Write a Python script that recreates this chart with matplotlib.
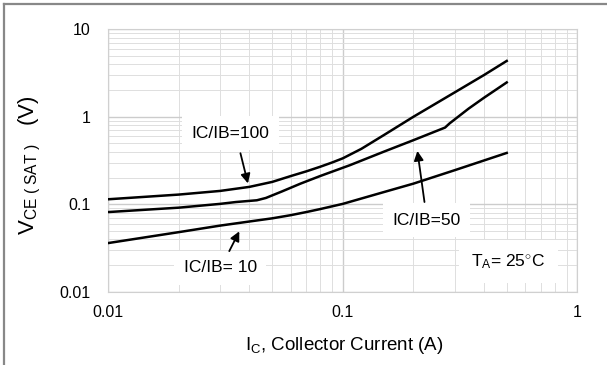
import numpy as np
import matplotlib
matplotlib.use('Agg')
import matplotlib.pyplot as plt
from matplotlib.ticker import LogLocator, NullFormatter, FixedLocator, FixedFormatter
from matplotlib.lines import Line2D

plt.rcParams['font.family'] = 'Liberation Sans'
plt.rcParams['mathtext.fontset'] = 'custom'
plt.rcParams['mathtext.rm'] = 'Liberation Sans'
plt.rcParams['mathtext.it'] = 'Liberation Sans'

# curves (Ic in A, Vce(sat) in V)
ic_100 = [0.01, 0.02, 0.03, 0.04, 0.05, 0.06, 0.07, 0.08, 0.09, 0.1, 0.12, 0.15, 0.2, 0.3, 0.4, 0.5]
vce_100 = [0.114, 0.129, 0.142, 0.158, 0.18, 0.21, 0.238, 0.268, 0.30, 0.335, 0.43, 0.62, 1.0, 1.9, 3.0, 4.35]

ic_50 = [0.01, 0.02, 0.03, 0.035, 0.043, 0.047, 0.055, 0.066, 0.08, 0.107, 0.15, 0.2, 0.273, 0.285, 0.344, 0.4, 0.5]
vce_50 = [0.0814, 0.0914, 0.101, 0.106, 0.111, 0.118, 0.140, 0.172, 0.21, 0.279, 0.40, 0.54, 0.753, 0.838, 1.24, 1.65, 2.47]

ic_10 = [0.01, 0.02, 0.03, 0.04, 0.05, 0.06, 0.07, 0.08, 0.1, 0.15, 0.2, 0.3, 0.5]
vce_10 = [0.036, 0.048, 0.057, 0.0635, 0.069, 0.075, 0.0815, 0.088, 0.101, 0.138, 0.172, 0.245, 0.386]

x_ticks = [0.01, 0.1, 1]
x_ticklabels = ['0.01', '0.1', '1']
y_ticks = [0.01, 0.1, 1, 10]
y_ticklabels = ['0.01', '0.1', '1', '10']

fig = plt.figure(figsize=(6.07, 3.65), dpi=100)
ax = fig.add_axes([0.1784, 0.2008, 0.7727, 0.7189])

ax.set_xscale('log')
ax.set_yscale('log')
ax.set_xlim(0.01, 1)
ax.set_ylim(0.01, 10)

ax.plot(ic_100, vce_100, color='black', lw=1.8, zorder=3)
ax.plot(ic_50, vce_50, color='black', lw=1.8, zorder=3)
ax.plot(ic_10, vce_10, color='black', lw=1.8, zorder=3)

# grid
ax.xaxis.set_major_locator(FixedLocator(x_ticks))
ax.xaxis.set_major_formatter(FixedFormatter(x_ticklabels))
ax.yaxis.set_major_locator(FixedLocator(y_ticks))
ax.yaxis.set_major_formatter(FixedFormatter(y_ticklabels))
ax.xaxis.set_minor_locator(LogLocator(base=10, subs=range(2, 10)))
ax.yaxis.set_minor_locator(LogLocator(base=10, subs=range(2, 10)))
ax.xaxis.set_minor_formatter(NullFormatter())
ax.yaxis.set_minor_formatter(NullFormatter())
ax.grid(which='major', color='#cccccc', lw=1.0)
ax.grid(which='minor', color='#dedede', lw=0.7)
ax.set_axisbelow(True)
ax.tick_params(which='both', length=0)
ax.tick_params(axis='x', labelsize=11.5, pad=9.5)
ax.tick_params(axis='y', labelsize=11.5, pad=12.5)
for s in ax.spines.values():
    s.set_color('#d0d0d0')

box = dict(boxstyle='square,pad=0.55', fc='white', ec='none')
arr = dict(arrowstyle='-|>', color='black', lw=1.3, mutation_scale=14, shrinkA=0, shrinkB=0)

ax.text(0.0332, 0.649, 'IC/IB=100', fontsize=12.5, ha='center', va='center', bbox=box, zorder=4)
ax.annotate('', xy=(0.0394, 0.173), xytext=(0.0366, 0.383), arrowprops=arr, zorder=5)

ax.text(0.228, 0.0654, 'IC/IB=50', fontsize=12.5, ha='center', va='center', bbox=box, zorder=4)
ax.annotate('', xy=(0.208, 0.407), xytext=(0.223, 0.106), arrowprops=arr, zorder=5)

ax.text(0.030, 0.0188, 'IC/IB= 10', fontsize=12.5, ha='center', va='center', bbox=box, zorder=4)
ax.annotate('', xy=(0.0362, 0.049), xytext=(0.0328, 0.0291), arrowprops=arr, zorder=5)

ax.text(0.508, 0.0222, r'T$_{\mathregular{A}}$= 25$^{\circ}$C', fontsize=12.5,
        ha='center', va='center', bbox=dict(boxstyle='square,pad=0.7', fc='white', ec='none'), zorder=4)

fig.text(30 / 607, 1 - 165 / 365, r'V$_{\mathregular{CE\ (\ SAT\ )}}$   (V)', fontsize=16,
         rotation=90, ha='center', va='center')
fig.text(344 / 607, 1 - 346 / 365, r'I$_{\mathregular{C}}$, Collector Current (A)', fontsize=13.5,
         ha='center', va='center')

# frame lines on top and left of the figure
fig.add_artist(Line2D([3.5 / 607, 3.5 / 607], [0, 1 - 3.5 / 365], color='#888888', lw=1.6))
fig.add_artist(Line2D([3.5 / 607, 1], [1 - 3.5 / 365, 1 - 3.5 / 365], color='#888888', lw=1.6))

fig.savefig('out.png', dpi=100)
plt.close()
